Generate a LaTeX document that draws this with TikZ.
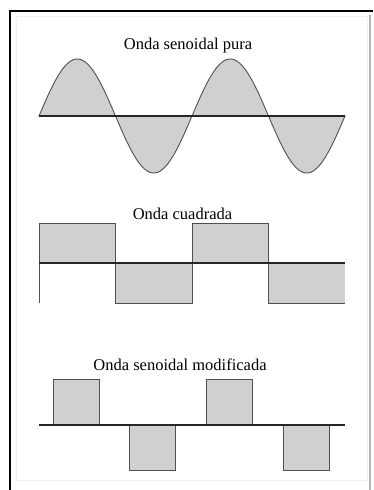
\documentclass[tikz,border=0pt]{standalone}
\usepackage{fontspec}
\setmainfont{Liberation Serif}
\usepackage{tikz}
\usetikzlibrary{positioning}
\definecolor{wfill}{RGB}{208,208,210}
\definecolor{wline}{RGB}{80,80,80}

\begin{document}
\begin{tikzpicture}[x=1pt,y=-1pt,
  title/.style={font=\fontsize{16.5}{19}\selectfont,anchor=base,inner sep=0pt},
  wave/.style={draw=wline,line width=0.9pt,fill=wfill},
  axis/.style={line width=1.1pt,black!85}]
  \useasboundingbox (0,0) rectangle (373,490);
  % frame
  \draw[line width=2pt] (10,490) -- (10,10.5) -- (373,10.5);
  \draw[gray!60,line width=1.2pt] (370,15) -- (370,490);
  \draw[gray!12,line width=1pt] (16,16) rectangle (367,480);
  % pure sine
  \node[title] (tsin) at (188,49) {Onda senoidal pura};
  \draw[wave] plot[domain=0:720,samples=145] ({39+\x*0.425},{116-57*sin(\x)}) -- cycle;
  \draw[axis] (39,116) -- (345,116);
  % square wave
  \node[title] (tsq) at (182.5,219) {Onda cuadrada};
  \foreach \a/\t/\b in {39/223/115, 115/303/192, 192/223/268, 268/303/345}
    \fill[wfill] (\a,263) rectangle (\b,\t);
  \draw[wline,line width=1pt] (39,303) -- (39,223) -- (115,223) -- (115,303) -- (192,303)
    -- (192,223) -- (268,223) -- (268,303) -- (345,303);
  \draw[axis] (39,263) -- (345,263);
  % modified sine
  \node[title] (tmod) at (180,370) {Onda senoidal modificada};
  \foreach \a/\t in {53/379, 129/470, 206/379, 283/470}
    \draw[wave] (\a,425) rectangle ({\a+46},\t);
  \draw[axis] (39,425) -- (345,425);
\end{tikzpicture}
\end{document}
